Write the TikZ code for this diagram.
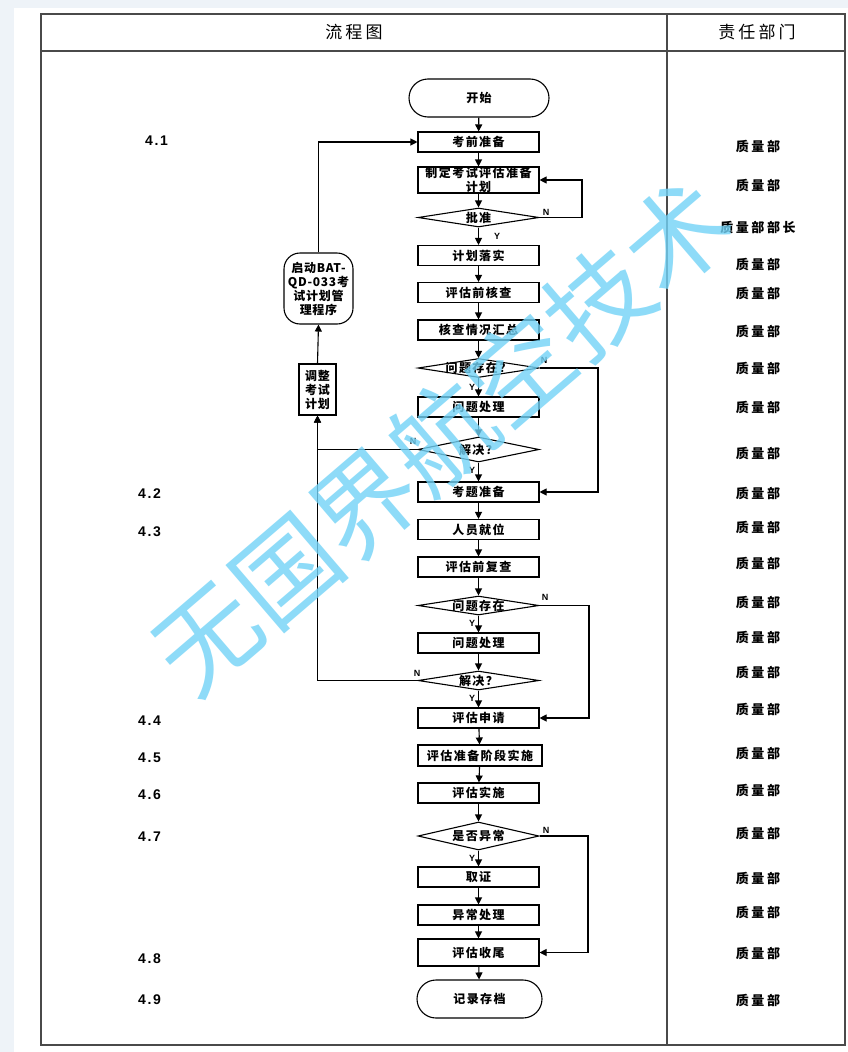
\documentclass[tikz,border=0pt]{standalone}
\usepackage{fontspec}
\setmainfont{Noto Sans CJK SC}
\newfontfamily\cjkbox[LetterSpace=12]{Noto Sans CJK SC}
\newfontfamily\cjkdep[LetterSpace=20]{Noto Sans CJK SC}
\newfontfamily\cjkhead[LetterSpace=18]{Noto Sans CJK SC}
\newfontfamily\cjkside[LetterSpace=6]{Noto Sans CJK SC}
\newfontfamily\latfont[LetterSpace=12]{Liberation Sans}
\newfontfamily\ynfont{Liberation Sans}
\usetikzlibrary{shapes.geometric,shapes.misc,arrows.meta}
\definecolor{pagebg}{HTML}{EEF3F8}
\definecolor{tablecol}{HTML}{4A4A4A}
\definecolor{wmark}{HTML}{72D3F7}
\tikzset{
  boxfont/.style={font=\cjkbox\bfseries\fontsize{12}{14}\selectfont},
  box/.style={rectangle, draw, line width=1.1pt, minimum width=121pt, minimum height=20pt, inner sep=0pt, boxfont, align=center},
  term/.style={rounded rectangle, draw, line width=1.1pt, minimum width=140pt, minimum height=38pt, inner sep=0pt, boxfont},
  dia/.style={diamond, draw, line width=1.1pt, minimum width=121pt, inner sep=0pt},
  lb/.style={boxfont, inner sep=0pt},
  side/.style={draw, line width=1.1pt, inner sep=0pt, align=center, font=\cjkside\bfseries\fontsize{12}{14}\selectfont},
  arr/.style={line width=1.1pt, -{Triangle[length=7pt,width=7pt]}},
  yn/.style={font=\ynfont\bfseries\fontsize{9}{10}\selectfont, inner sep=0pt},
  dep/.style={font=\cjkdep\bfseries\fontsize{13}{15}\selectfont, inner sep=0pt},
  sec/.style={font=\latfont\bfseries\fontsize{14}{16}\selectfont, inner sep=0pt, anchor=west},
  head/.style={font=\cjkhead\fontsize{17}{20}\selectfont, inner sep=0pt},
  tline/.style={draw=tablecol, line width=1.5pt}
}
\begin{document}
\begin{tikzpicture}[x=1pt,y=-1pt]
\useasboundingbox (0,0) rectangle (848,1052);
\fill[pagebg] (0,0) rectangle (848,1052);
\fill[white] (14,8) rectangle (848,1052);
% table
\draw[tline] (41,14) rectangle (845,1045);
\draw[tline] (41,51) -- (845,51);
\draw[tline] (667,14) -- (667,1045);
\node[head] (h1) at (354,32.5) {流程图};
\node[head] (h2) at (757,32.5) {责任部门};
% main flow
\node[term] (start) at (479,98) {开始};
\node[box] (n1) at (478.5,142) {考前准备};
\node[box, minimum height=26pt] (n2) at (478.5,180) {制定考试评估准备\\计划};
\node[dia, minimum height=19pt, label={[lb]center:批准}] (d1) at (478.5,217.5) {};
\node[box] (n3) at (478.5,255.5) {计划落实};
\node[box] (n4) at (478.5,292.5) {评估前核查};
\node[box] (n5) at (478.5,330) {核查情况汇总};
\node[dia, minimum height=19pt, label={[lb]center:问题存在？}] (d2) at (478.5,368) {};
\node[box] (n6) at (478.5,407) {问题处理};
\node[dia, minimum height=25pt, label={[lb]center:解决？}] (d3) at (478.5,449.5) {};
\node[box] (n7) at (478.5,492) {考题准备};
\node[box] (n8) at (478.5,529.5) {人员就位};
\node[box] (n9) at (478.5,567) {评估前复查};
\node[dia, minimum height=19pt, label={[lb]center:问题存在}] (d4) at (478.5,605.5) {};
\node[box] (n10) at (478.5,643) {问题处理};
\node[dia, minimum height=19pt, label={[lb]center:解决？}] (d5) at (478.5,680.5) {};
\node[box] (n11) at (478.5,718) {评估申请};
\node[box, minimum width=124pt, minimum height=21pt] (n12) at (480,755.5) {评估准备阶段实施};
\node[box] (n13) at (478.5,793) {评估实施};
\node[dia, minimum height=28pt, label={[lb]center:是否异常}] (d6) at (478.5,836) {};
\node[box] (n14) at (478.5,877) {取证};
\node[box] (n15) at (478.5,915) {异常处理};
\node[box, minimum height=27pt] (n16) at (478.5,952.5) {评估收尾};
\node[term, minimum width=125pt] (end) at (479.5,999) {记录存档};
% side nodes
\node[side, rounded corners=16pt, minimum width=69pt, minimum height=71pt] (s1) at (318.5,288.5) {启动BAT-\\QD-033考\\试计划管\\理程序};
\node[side, minimum width=37pt, minimum height=51pt] (s2) at (317.5,389.5) {调整\\考试\\计划};
% main arrows
\foreach \a/\b in {start/n1,n1/n2,n2/d1,d1/n3,n3/n4,n4/n5,n5/d2,d2/n6,n6/d3,d3/n7,n7/n8,n8/n9,n9/d4,d4/n10,n10/d5,d5/n11,n11/n12,n12/n13,n13/d6,d6/n14,n14/n15,n15/n16,n16/end}
  \draw[arr] (\a) -- (\b);
% loops
\coordinate (c1) at (582,217.5);
\coordinate (c2) at (598,368);
\coordinate (c4) at (589,605.5);
\coordinate (c6) at (588,836);
\draw[arr] (d1.east) -- (c1) |- (n2.east);
\draw[arr] (d2.east) -- (c2) |- (n7.east);
\draw[arr] (d4.east) -- (c4) |- (n11.east);
\draw[arr] (d6.east) -- (c6) |- (n16.east);
\draw[arr] (d3.west) -| (s2.south);
\draw[arr] (d5.west) -| (s2.south);
\draw[arr] (s2.north) -- (s1.south);
\draw[arr] (s1.north) |- (n1.west);
% Y/N labels
\node[yn] (y1) at (497,236) {Y};
\node[yn] (nn1) at (546,212) {N};
\node[yn] (y2) at (472,387) {Y};
\node[yn] (nn2) at (544,360) {N};
\node[yn] (y3) at (472,470) {Y};
\node[yn] (nn3) at (413,441) {N};
\node[yn] (y4) at (472,623) {Y};
\node[yn] (nn4) at (545,597) {N};
\node[yn] (y5) at (472,698) {Y};
\node[yn] (nn5) at (417,673) {N};
\node[yn] (y6) at (472,858) {Y};
\node[yn] (nn6) at (546,830) {N};
% section numbers
\node[sec] (s41) at (145,141) {4.1};
\node[sec] (s42) at (138,494) {4.2};
\node[sec] (s43) at (138,532) {4.3};
\node[sec] (s44) at (138,721) {4.4};
\node[sec] (s45) at (138,758) {4.5};
\node[sec] (s46) at (138,795) {4.6};
\node[sec] (s47) at (138,837) {4.7};
\node[sec] (s48) at (138,959) {4.8};
\node[sec] (s49) at (138,1000) {4.9};
% departments
\foreach \y [count=\i] in {146,185,264,293,331,368,407,453,493,527,563,602,637,672,709,753,790,833,878,912,953,1000}
  \node[dep] (dep\i) at (758,\y) {质量部};
\node[dep] (depL) at (758,227) {质量部部长};
% watermark
\node[font=\fontsize{103}{103}\selectfont, text=wmark, opacity=0.8, rotate=40.6, inner sep=0pt] (wm) at (442,436) {无国界航空技术};
\end{tikzpicture}
\end{document}
